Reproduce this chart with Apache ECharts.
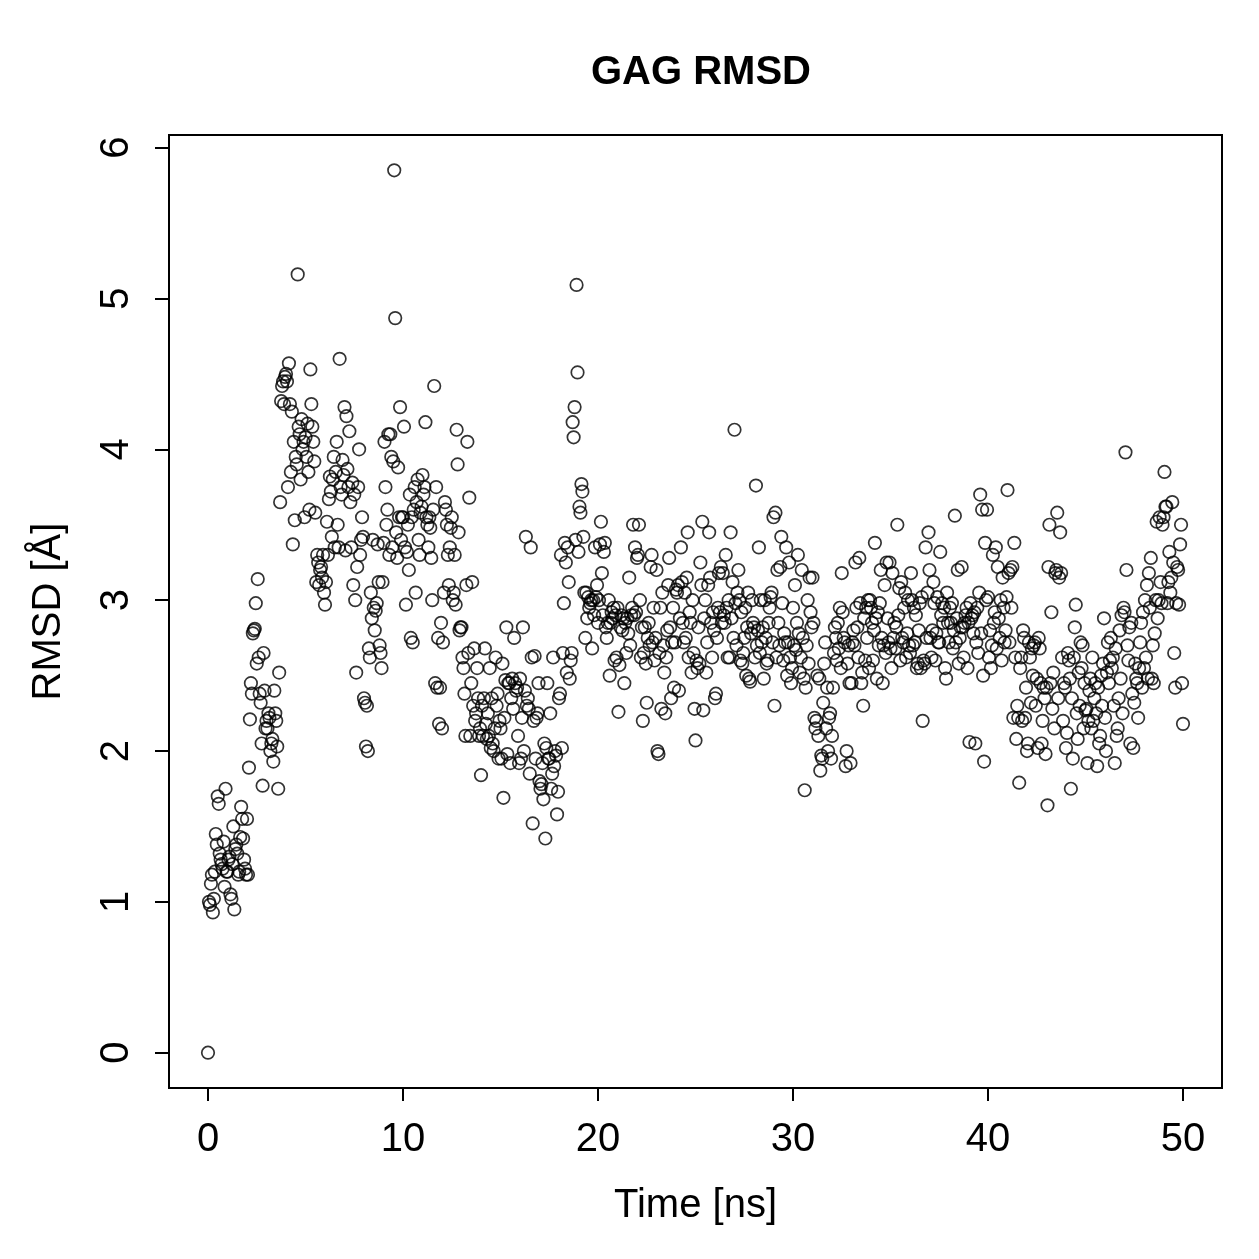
<!DOCTYPE html>
<html>
    <head>
        <meta charset="UTF-8">
        <title>GAG RMSD</title>
        <script src="https://cdn.jsdelivr.net/npm/echarts@6/dist/echarts.min.js"></script>
    </head>
    <body style="margin:0;background:#fff">
        <div id="main" style="width:1259px;height:1259px;"></div>
        <script>
            // RMSD values, one every 0.05 ns
            var rmsd0to10 = [
                0, 1.0, 0.98, 1.12, 1.18, 0.93, 1.02, 1.2, 1.45, 1.38, 1.7, 1.65, 1.32, 1.28, 1.25, 1.22, 1.4, 1.1, 1.75, 1.2,
                1.2, 1.28, 1.3, 1.05, 1.02, 1.25, 1.5, 0.95, 1.35, 1.38, 1.32, 1.18, 1.2, 1.43, 1.63, 1.55, 1.42, 1.28, 1.22, 1.18,
                1.55, 1.18, 1.89, 2.21, 2.45, 2.38, 2.78, 2.8, 2.81, 2.98, 2.58, 3.14, 2.62, 2.38, 2.32, 2.05, 1.77, 2.65, 2.4, 2.15,
                2.2, 2.15, 2.25, 2.22, 2.0, 2.05, 2.08, 1.93, 2.4, 2.25, 2.2, 2.03, 1.75, 2.52, 3.65, 4.32, 4.42, 4.45, 4.3, 4.48,
                4.5, 4.45, 3.75, 4.57, 4.3, 3.85, 4.25, 3.37, 4.05, 3.53, 3.95, 3.9, 5.16, 4.15, 4.1, 3.8, 4.2, 4.0, 4.05, 3.55,
                4.08, 3.95, 4.17, 3.85, 3.6, 4.53, 4.3, 4.15, 4.05, 3.92, 3.58, 3.12, 3.3, 3.25, 3.1, 3.2, 3.22, 3.15, 3.3, 3.05,
                2.97, 3.12, 3.52, 3.3, 3.67, 3.82, 3.72, 3.42, 3.8, 3.95, 3.35, 3.85, 4.05, 3.5, 3.35, 4.6, 3.75, 3.7, 3.93, 3.83,
                4.28, 3.33, 4.22, 3.87, 3.75, 4.12, 3.65, 3.35, 3.78, 3.1, 3.7, 3.0, 2.52, 3.22, 3.75, 4.0, 3.3, 3.4, 3.55, 3.42,
                2.35, 2.32, 2.03, 2.3, 2.0, 2.68, 2.62, 3.05, 2.88, 3.4, 2.95, 2.8, 2.93, 2.98, 3.37, 3.12, 2.7, 2.65, 2.55, 3.12,
                3.38, 4.05, 3.75, 3.5, 3.6, 4.1, 3.3, 4.1, 3.95, 3.35, 3.92, 5.85, 4.87, 3.45, 3.28, 3.88, 3.55, 4.28, 3.4, 3.55
            ];
            var rmsd10to20 = [
                3.55, 4.15, 3.35, 2.97, 3.32, 3.5, 3.2, 3.7, 2.75, 3.55, 2.72, 3.6, 3.75, 3.05, 3.65, 3.8, 3.4, 3.3, 3.58, 3.62,
                3.83, 3.7, 3.75, 4.18, 3.55, 3.5, 3.35, 3.55, 3.48, 3.28, 3.0, 3.6, 4.42, 2.45, 3.75, 2.42, 2.75, 2.18, 2.42, 2.85,
                2.15, 2.72, 3.05, 3.65, 3.6, 3.5, 3.3, 3.1, 3.35, 3.48, 3.55, 3.0, 3.05, 3.3, 2.97, 4.13, 3.9, 3.45, 2.8, 2.82,
                2.82, 2.62, 2.55, 2.38, 2.1, 3.1, 4.05, 2.65, 3.68, 2.1, 2.45, 3.12, 2.3, 2.68, 2.2, 2.25, 2.55, 2.35, 2.1, 2.15,
                1.84, 2.3, 2.1, 2.35, 2.68, 2.18, 2.08, 2.25, 2.1, 2.55, 2.02, 2.35, 2.05, 2.0, 2.15, 2.62, 2.3, 2.38, 1.95, 2.2,
                2.15, 1.95, 2.58, 1.69, 2.22, 2.47, 2.82, 1.98, 2.45, 2.45, 1.92, 2.35, 2.48, 2.28, 2.75, 2.45, 2.4, 2.42, 2.1, 1.92,
                2.48, 1.95, 2.22, 2.82, 2.0, 2.4, 3.42, 2.3, 2.35, 2.28, 1.85, 3.35, 2.62, 1.52, 2.2, 2.63, 1.95, 2.22, 2.25, 2.45,
                1.8, 1.75, 1.78, 1.92, 1.68, 2.05, 1.42, 2.02, 2.45, 1.95, 1.95, 2.25, 1.75, 1.85, 2.62, 1.9, 2.0, 1.97, 1.58, 1.73,
                2.35, 2.38, 3.3, 2.02, 2.65, 2.98, 3.38, 3.25, 2.52, 3.35, 3.12, 2.48, 2.6, 2.65, 4.18, 4.08, 4.28, 3.4, 5.09, 4.51,
                3.32, 3.62, 3.58, 3.77, 3.72, 3.42, 3.05, 2.75, 3.05, 2.88, 3.02, 2.95, 2.98, 3.0, 2.68, 3.0, 2.9, 3.35, 3.02, 3.1
            ];
            var rmsd20to30 = [
                2.85, 3.0, 3.37, 3.52, 3.18, 2.9, 3.32, 3.38, 2.82, 2.75, 2.85, 3.0, 2.5, 2.85, 2.92, 2.88, 2.95, 2.6, 2.9, 2.62,
                2.95, 2.26, 2.57, 2.82, 2.9, 2.8, 2.88, 2.45, 2.85, 2.65, 2.88, 2.78, 3.15, 2.7, 2.9, 2.95, 3.5, 2.9, 3.35, 2.92,
                3.28, 3.3, 3.5, 3.0, 2.62, 2.82, 2.2, 2.65, 2.82, 2.58, 2.32, 2.75, 2.85, 2.7, 3.22, 3.3, 2.72, 2.95, 2.6, 2.75,
                3.2, 2.0, 1.98, 2.65, 2.95, 2.28, 3.05, 2.7, 2.52, 2.25, 2.62, 2.8, 3.1, 3.28, 2.82, 2.35, 2.72, 2.95, 2.42, 2.72,
                3.07, 3.05, 3.1, 2.4, 2.88, 3.35, 3.12, 2.85, 2.72, 3.05, 2.75, 3.15, 3.45, 2.62, 2.92, 2.85, 2.52, 3.0, 2.65, 2.28,
                2.07, 2.6, 2.55, 2.82, 2.58, 3.25, 3.1, 3.52, 2.27, 2.88, 3.0, 2.52, 2.72, 3.1, 3.45, 3.15, 2.85, 2.62, 2.92, 2.8,
                2.35, 2.38, 2.75, 2.95, 3.18, 2.92, 3.22, 2.85, 3.18, 2.9, 2.85, 3.3, 2.95, 2.62, 3.0, 2.62, 3.45, 2.88, 3.12, 2.75,
                4.13, 2.98, 2.7, 3.05, 3.2, 3.0, 2.6, 2.92, 2.58, 2.65, 2.75, 2.95, 2.5, 2.82, 3.05, 2.48, 2.46, 2.78, 3.0, 2.85,
                2.82, 2.62, 3.76, 2.7, 2.8, 3.35, 2.65, 3.0, 2.72, 2.82, 2.48, 3.0, 2.75, 2.58, 2.6, 2.85, 2.95, 3.02, 3.05, 2.72,
                3.55, 2.3, 3.58, 2.62, 3.2, 2.85, 2.7, 3.22, 3.42, 2.98, 2.6, 2.78, 2.72, 3.35, 2.5, 2.72, 3.25, 2.62, 2.45, 2.55
            ];
            var rmsd30to40 = [
                2.95, 2.7, 3.1, 2.67, 2.85, 3.3, 2.78, 2.52, 2.62, 3.2, 2.75, 2.48, 1.74, 2.42, 2.7, 3.0, 2.58, 3.15, 2.92, 2.82,
                3.15, 2.85, 2.22, 2.15, 2.2, 2.5, 2.1, 2.48, 1.87, 1.97, 1.95, 2.32, 2.58, 2.72, 2.15, 2.42, 2.0, 2.22, 2.25, 1.95,
                2.1, 2.42, 2.65, 2.82, 2.75, 2.6, 2.85, 2.68, 2.95, 2.55, 3.18, 2.92, 2.75, 2.72, 1.9, 2.0, 2.58, 2.7, 2.45, 1.92,
                2.45, 2.72, 2.8, 2.7, 3.25, 2.95, 2.82, 2.62, 3.28, 2.98, 2.45, 2.52, 2.3, 2.88, 2.6, 2.95, 2.75, 3.0, 2.55, 3.0,
                2.95, 2.85, 2.6, 2.8, 3.38, 2.88, 2.48, 2.92, 2.7, 2.98, 3.2, 2.75, 2.45, 2.7, 3.1, 2.65, 3.25, 2.88, 2.72, 3.25,
                2.68, 2.55, 3.18, 2.75, 2.85, 2.68, 2.82, 3.5, 2.9, 3.08, 2.6, 3.12, 2.75, 2.72, 2.95, 3.05, 2.62, 2.78, 3.0, 2.7,
                2.65, 3.18, 3.0, 2.7, 2.95, 2.72, 2.9, 2.55, 2.58, 2.8, 2.98, 2.55, 3.02, 2.2, 2.6, 2.58, 3.35, 2.75, 3.05, 3.45,
                3.2, 2.75, 2.62, 2.8, 3.12, 2.98, 2.6, 2.78, 3.02, 2.72, 2.72, 3.32, 2.9, 2.98, 2.85, 2.95, 2.55, 2.48, 3.05, 2.85,
                2.72, 2.95, 2.85, 2.98, 2.68, 2.8, 3.56, 2.72, 2.88, 3.2, 2.58, 2.75, 2.82, 3.22, 2.82, 2.62, 2.85, 2.9, 2.95, 2.55,
                2.85, 2.06, 2.98, 2.88, 2.9, 2.78, 2.92, 2.05, 2.72, 2.95, 2.65, 3.05, 3.7, 2.78, 3.6, 2.5, 1.93, 3.38, 3.0, 3.6
            ];
            var rmsd40to50 = [
                3.02, 2.62, 2.8, 2.55, 2.7, 3.3, 2.85, 2.92, 3.35, 2.68, 3.22, 2.88, 2.75, 3.0, 2.6, 3.15, 2.95, 2.72, 2.8, 3.02,
                3.73, 3.18, 2.72, 3.2, 2.95, 3.22, 2.22, 3.38, 2.62, 2.08, 2.3, 2.22, 1.79, 2.55, 2.62, 2.2, 2.8, 2.75, 2.22, 2.42,
                2.0, 2.05, 2.72, 2.62, 2.32, 2.68, 2.5, 2.7, 2.72, 2.3, 2.48, 2.02, 2.75, 2.68, 2.45, 2.05, 2.2, 2.42, 2.35, 1.98,
                2.42, 1.64, 3.22, 3.5, 2.45, 2.92, 2.28, 2.52, 2.15, 3.18, 3.2, 3.58, 2.35, 3.15, 3.45, 3.18, 2.62, 2.2, 2.45, 2.42,
                2.02, 2.12, 2.65, 2.6, 2.48, 1.75, 2.35, 1.95, 2.62, 2.82, 2.97, 2.25, 2.08, 2.52, 2.3, 2.72, 2.55, 2.7, 2.15, 2.45,
                2.27, 2.28, 1.92, 2.2, 2.4, 2.48, 2.15, 2.62, 2.2, 2.35, 2.45, 2.25, 1.9, 2.42, 2.05, 2.1, 2.5, 2.3, 2.58, 2.88,
                2.22, 2.0, 2.52, 2.72, 2.45, 2.6, 2.75, 2.55, 2.62, 2.3, 1.92, 2.68, 2.1, 2.15, 2.35, 2.8, 2.48, 2.9, 2.25, 2.95,
                2.92, 3.98, 3.2, 2.7, 2.6, 2.82, 2.05, 2.85, 2.38, 2.02, 2.32, 2.58, 2.48, 2.45, 2.22, 2.55, 2.72, 2.85, 2.42, 2.92,
                2.55, 3.0, 2.62, 3.1, 2.48, 3.18, 2.95, 3.28, 2.48, 2.7, 2.45, 2.78, 3.0, 3.52, 2.88, 3.0, 3.55, 3.12, 2.98, 3.5,
                3.55, 3.85, 3.62, 3.62, 2.98, 3.12, 3.32, 3.05, 3.15, 3.65, 3.25, 2.65, 2.42, 2.98, 3.22, 3.2, 2.97, 3.37, 3.5, 2.45,
                2.18
            ];
            var timeStep = 0.05; // ns between frames
            var xTicks = [0, 10, 20, 30, 40, 50];
            var yTicks = [0, 1, 2, 3, 4, 5, 6];

            var rmsd = rmsd0to10.concat(rmsd10to20, rmsd20to30, rmsd30to40, rmsd40to50);
            var points = rmsd.map(function(v, i) {
                return [+(i * timeStep).toFixed(2), v];
            });

            var font = 'Liberation Sans, Arial, Helvetica, sans-serif';
            var chart = echarts.init(document.getElementById('main'), null, {renderer: 'canvas'});
            chart.setOption({
                backgroundColor: '#ffffff',
                animation: false,
                title: {
                    text: 'GAG RMSD',
                    left: 696,
                    top: 48,
                    textAlign: 'center',
                    textStyle: {fontFamily: font, fontWeight: 'bold', fontSize: 40, color: '#000'}
                },
                grid: {
                    left: 169,
                    top: 135,
                    width: 1053,
                    height: 953,
                    show: true,
                    borderColor: '#000',
                    borderWidth: 2,
                    backgroundColor: 'transparent'
                },
                xAxis: {
                    type: 'value',
                    min: -2,
                    max: 52,
                    name: 'Time [ns]',
                    nameLocation: 'middle',
                    nameGap: 98,
                    nameTextStyle: {fontFamily: font, fontSize: 40, color: '#000'},
                    axisLine: {show: false, onZero: false},
                    axisTick: {show: true, inside: false, length: 13, lineStyle: {color: '#000', width: 2}, customValues: xTicks},
                    axisLabel: {customValues: xTicks, margin: 32, fontFamily: font, fontSize: 40, color: '#000'},
                    splitLine: {show: false}
                },
                yAxis: {
                    type: 'value',
                    min: -0.234,
                    max: 6.084,
                    name: 'RMSD [Å]',
                    nameLocation: 'middle',
                    nameGap: 100,
                    nameRotate: 90,
                    nameTextStyle: {fontFamily: font, fontSize: 40, color: '#000'},
                    axisLine: {show: false, onZero: false},
                    axisTick: {show: true, inside: false, length: 14, lineStyle: {color: '#000', width: 2}, customValues: yTicks},
                    axisLabel: {customValues: yTicks, rotate: 90, margin: 32, fontFamily: font, fontSize: 40, color: '#000'},
                    splitLine: {show: false}
                },
                series: [{
                    type: 'scatter',
                    data: points,
                    symbol: 'circle',
                    symbolSize: 12.5,
                    itemStyle: {color: 'rgba(0,0,0,0)', borderColor: '#000', borderWidth: 1.7},
                    emphasis: {disabled: true}
                }]
            });
        </script>
    </body>
</html>
